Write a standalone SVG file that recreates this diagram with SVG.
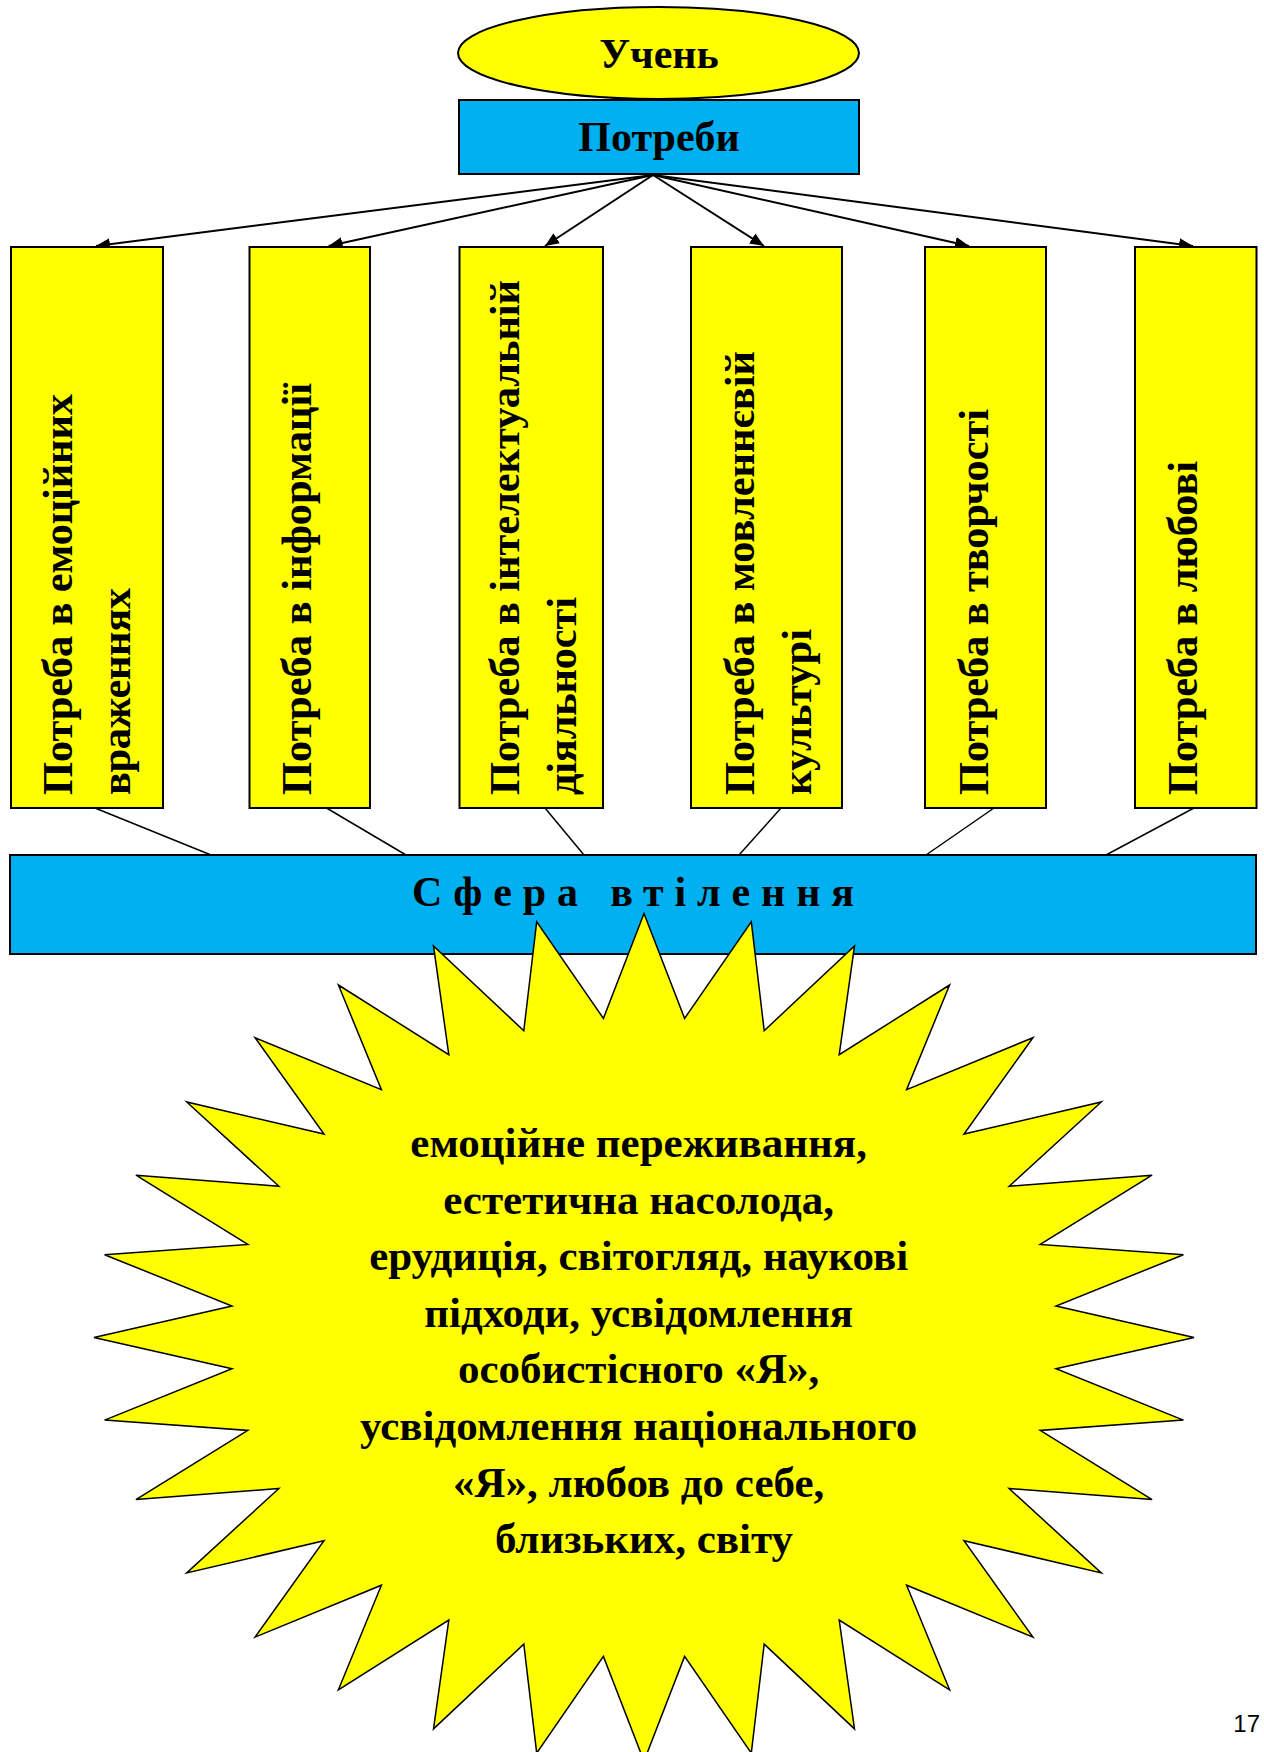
<svg xmlns="http://www.w3.org/2000/svg" width="1264" height="1752" viewBox="0 0 1264 1752">
<style>
.t{font-family:"Liberation Serif","Times New Roman",serif;font-weight:bold;fill:#000}
.yb{fill:#FFFF00;stroke:#000;stroke-width:2}
.bb{fill:#00B0F0;stroke:#000;stroke-width:2}
.arr{stroke:#000;stroke-width:2;fill:none;marker-end:url(#ah)}
.ln{stroke:#000;stroke-width:1.5;fill:none}
.v{font-size:42.5px}
.s{font-size:43px}
</style>
<defs>
<marker id="ah" viewBox="0 0 14 12" markerWidth="14" markerHeight="12" refX="14" refY="6" orient="auto" markerUnits="userSpaceOnUse">
<path d="M0,0 L14,6 L0,12 z" fill="#000"/>
</marker>
</defs>
<rect width="1264" height="1752" fill="#fff"/>

<g id="connectors">
<line class="arr" x1="653" y1="175" x2="96" y2="246"/>
<line class="arr" x1="653" y1="175" x2="328.6" y2="246"/>
<line class="arr" x1="653" y1="175" x2="545" y2="246"/>
<line class="arr" x1="653" y1="175" x2="764" y2="246"/>
<line class="arr" x1="653" y1="175" x2="969" y2="246"/>
<line class="arr" x1="653" y1="175" x2="1193" y2="246"/>
<line class="ln" x1="95" y1="808" x2="211" y2="855"/>
<line class="ln" x1="326.5" y1="808" x2="406" y2="855"/>
<line class="ln" x1="545" y1="808" x2="584" y2="855"/>
<line class="ln" x1="781" y1="808" x2="739" y2="855"/>
<line class="ln" x1="994" y1="808" x2="926" y2="855"/>
<line class="ln" x1="1194" y1="808" x2="1106" y2="855"/>
</g>

<g id="uchen">
<ellipse class="yb" cx="658.5" cy="53" rx="200.5" ry="46"/>
<text class="t" x="659" y="68" font-size="42" text-anchor="middle">Учень</text>
</g>

<g id="potreby">
<rect class="bb" x="459" y="100" width="400" height="74"/>
<text class="t" x="659" y="151" font-size="42" text-anchor="middle">Потреби</text>
</g>

<g id="box1">
<rect class="yb" x="11" y="247" width="152" height="561"/>
<text class="t v" transform="translate(71.7,795) rotate(-90)" textLength="401" lengthAdjust="spacing">Потреба в емоційних</text>
<text class="t v" transform="translate(130,795) rotate(-90)" textLength="207" lengthAdjust="spacing">враженнях</text>
</g>

<g id="box2">
<rect class="yb" x="249.5" y="247" width="120.5" height="561"/>
<text class="t v" transform="translate(310.7,795) rotate(-90)" textLength="412" lengthAdjust="spacing">Потреба в інформації</text>
</g>

<g id="box3">
<rect class="yb" x="459.5" y="247" width="143.5" height="561"/>
<text class="t v" transform="translate(518.5,795) rotate(-90)" textLength="515" lengthAdjust="spacing">Потреба в інтелектуальній</text>
<text class="t v" transform="translate(576,795) rotate(-90)" textLength="198" lengthAdjust="spacing">діяльності</text>
</g>

<g id="box4">
<rect class="yb" x="691" y="247" width="151" height="561"/>
<text class="t v" transform="translate(753.5,795) rotate(-90)" textLength="444" lengthAdjust="spacing">Потреба в мовленнєвій</text>
<text class="t v" transform="translate(811,795) rotate(-90)" textLength="166" lengthAdjust="spacing">культурі</text>
</g>

<g id="box5">
<rect class="yb" x="925" y="247" width="121" height="561"/>
<text class="t v" transform="translate(987.6,795) rotate(-90)" textLength="386" lengthAdjust="spacing">Потреба в творчості</text>
</g>

<g id="box6">
<rect class="yb" x="1135" y="247" width="121.5" height="561"/>
<text class="t v" transform="translate(1197,795) rotate(-90)" textLength="334" lengthAdjust="spacing">Потреба в любові</text>
</g>

<g id="sfera">
<rect class="bb" x="10" y="855" width="1246" height="99"/>
<text class="t" x="412" y="906" font-size="42" textLength="442" lengthAdjust="spacing">Сфера втілення</text>
</g>

<g id="star">
<polygon fill="#FFFF00" stroke="#000" stroke-width="1.5" stroke-linejoin="miter" points="644,913.6 684.6,1018.4 751.3,921.7 764.2,1030.7 854.5,945.9 839.2,1054.7 949.6,985 906.6,1089.7 1032.9,1037.7 964,1134.1 1101.3,1102 1009.1,1186.3 1152.1,1175.2 1040.2,1244.4 1183.4,1254.7 1056,1306 1194,1337.4 1056,1368.8 1183.4,1420.1 1040.2,1430.4 1152.1,1499.6 1009.1,1488.5 1101.3,1572.9 964,1540.7 1032.9,1637.1 906.6,1585.2 949.6,1689.8 839.2,1620.1 854.5,1728.9 764.2,1644.1 751.3,1753.1 684.6,1656.4 644,1761.2 603.4,1656.4 536.7,1753.1 523.8,1644.1 433.5,1728.9 448.8,1620.1 338.4,1689.8 381.4,1585.2 255.1,1637.1 324,1540.7 186.7,1572.9 278.9,1488.5 135.9,1499.6 247.8,1430.4 104.6,1420.1 232,1368.8 94,1337.4 232,1306 104.6,1254.7 247.8,1244.4 135.9,1175.2 278.9,1186.3 186.7,1102 324,1134.1 255.1,1037.7 381.4,1089.7 338.4,985 448.8,1054.7 433.5,945.9 523.8,1030.7 536.7,921.7 603.4,1018.4"/>
<text class="t s" text-anchor="middle">
<tspan x="644" y="1157">емоційне переживання,</tspan>
<tspan x="644" y="1213.6">естетична насолода,</tspan>
<tspan x="644" y="1270.2">ерудиція, світогляд, наукові</tspan>
<tspan x="644" y="1326.8">підходи, усвідомлення</tspan>
<tspan x="644" y="1383.4">особистісного «Я»,</tspan>
<tspan x="644" y="1440">усвідомлення національного</tspan>
<tspan x="644" y="1496.6">«Я», любов до себе,</tspan>
<tspan x="644" y="1553.2">близьких, світу</tspan>
</text>
</g>

<text x="1260" y="1731.5" font-family="'Liberation Sans',Arial,sans-serif" font-size="24" text-anchor="end" fill="#000">17</text>
</svg>
